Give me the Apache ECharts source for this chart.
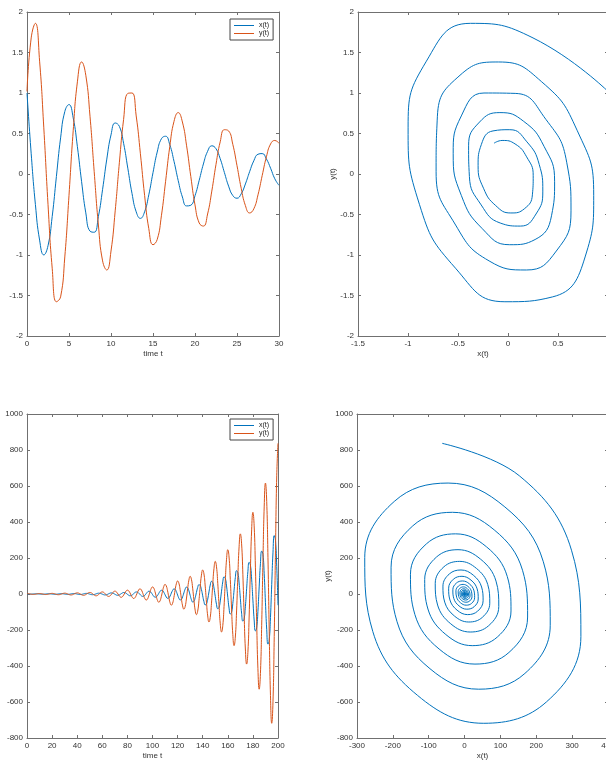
<!DOCTYPE html>
<html>
<head>
<meta charset="utf-8">
<script src="https://cdn.jsdelivr.net/npm/echarts@6/dist/echarts.min.js"></script>
<style>
  html, body { margin: 0; padding: 0; background: #fff; }
  #chart { width: 606px; height: 762px; }
</style>
</head>
<body>
<div id="chart"></div>
<script>
// ---- Damped oscillation, sampled every 0.5 time units (t = 0 .. 30) ----
const tDamped = [0,0.5,1,1.5,2,2.5,3,3.5,4,4.5,5,5.5,6,6.5,7,7.5,8,8.5,9,9.5,
  10,10.5,11,11.5,12,12.5,13,13.5,14,14.5,15,15.5,16,16.5,17,17.5,18,18.5,19,19.5,
  20,20.5,21,21.5,22,22.5,23,23.5,24,24.5,25,25.5,26,26.5,27,27.5,28,28.5,29,29.5,30];
const xDamped = [1.0,0.25,-0.376,-0.816,-0.999,-0.886,-0.525,-0.031,0.446,0.771,
  0.857,0.693,0.337,-0.095,-0.48,-0.706,-0.719,-0.524,-0.189,0.184,
  0.483,0.63,0.587,0.379,0.072,-0.24,-0.467,-0.548,-0.467,-0.257,
  0.017,0.271,0.435,0.466,0.361,0.157,-0.081,-0.284,-0.394,-0.386,
  -0.268,-0.078,0.124,0.28,0.348,0.312,0.189,0.018,-0.15,-0.266,
  -0.299,-0.245,-0.123,0.028,0.163,0.244,0.252,0.186,0.071,-0.059,-0.14];
const yDamped = [1.02,1.68,1.86,1.393,0.57,-0.374,-1.163,-1.577,-1.517,-1.024,
  -0.263,0.534,1.138,1.383,1.219,0.713,0.028,-0.63,-1.073,-1.185,
  -0.951,-0.455,0.145,0.674,0.995,1.0,0.717,0.25,-0.264,-0.675,
  -0.873,-0.809,-0.516,-0.09,0.34,0.65,0.758,0.642,0.348,-0.031,
  -0.382,-0.605,-0.643,-0.494,-0.211,0.119,0.397,0.547,0.532,0.366,
  0.103,-0.176,-0.39,-0.481,-0.43,-0.257,-0.019,0.212,0.371,0.414,0.38];

// ---- Growing oscillation, sampled every 1 time unit (t = 0 .. 200) ----
const tGrow = [0,1,2,3,4,5,6,7,8,9,10,11,12,13,14,15,16,17,18,19,
  20,21,22,23,24,25,26,27,28,29,30,31,32,33,34,35,36,37,38,39,
  40,41,42,43,44,45,46,47,48,49,50,51,52,53,54,55,56,57,58,59,
  60,61,62,63,64,65,66,67,68,69,70,71,72,73,74,75,76,77,78,79,
  80,81,82,83,84,85,86,87,88,89,90,91,92,93,94,95,96,97,98,99,
  100,101,102,103,104,105,106,107,108,109,110,111,112,113,114,115,116,117,118,119,
  120,121,122,123,124,125,126,127,128,129,130,131,132,133,134,135,136,137,138,139,
  140,141,142,143,144,145,146,147,148,149,150,151,152,153,154,155,156,157,158,159,
  160,161,162,163,164,165,166,167,168,169,170,171,172,173,174,175,176,177,178,179,
  180,181,182,183,184,185,186,187,188,189,190,191,192,193,194,195,196,197,198,199,200];
const xGrow = [
  -0.14,-0.59,-0.83,-0.76,-0.39,0.16,0.68,0.97,0.89,0.46,
  -0.19,-0.80,-1.13,-1.04,-0.53,0.22,0.93,1.32,1.21,0.62,
  -0.25,-1.08,-1.54,-1.41,-0.72,0.30,1.26,1.79,1.64,0.84,
  -0.34,-1.47,-2.08,-1.91,-0.98,0.40,1.71,2.43,2.23,1.14,
  -0.47,-1.99,-2.83,-2.60,-1.33,0.54,2.32,3.29,3.03,1.55,
  -0.63,-2.71,-3.84,-3.53,-1.81,0.74,3.15,4.47,4.11,2.11,
  -0.86,-3.67,-5.21,-4.79,-2.45,1.00,4.28,6.07,5.58,2.86,
  -1.17,-4.99,-7.08,-6.51,-3.33,1.36,5.81,8.25,7.58,3.88,
  -1.59,-6.77,-9.61,-8.83,-4.52,1.85,7.89,11.2,10.29,5.27,
  -2.15,-9.2,-13.05,-12.0,-6.14,2.51,10.72,15.21,13.98,7.16,
  -2.92,-12.49,-17.73,-16.3,-8.34,3.41,14.55,20.66,18.99,9.72,
  -3.97,-16.96,-24.08,-22.13,-11.33,4.63,19.76,28.06,25.79,13.21,
  -5.39,-23.03,-32.69,-30.05,-15.39,6.28,26.83,38.09,35.01,17.93,
  -7.3,-31.3,-44.4,-40.8,-20.9,8.5,36.4,51.7,47.5,24.3,
  -9.9,-42.5,-60.3,-55.4,-28.4,11.6,49.5,70.3,64.6,33.1,
  -13.5,-57.6,-81.8,-75.2,-38.5,15.7,67.2,95.4,87.7,44.9,
  -18.3,-78.3,-111.2,-102.2,-52.3,21.4,91.3,129.5,119.1,61.0,
  -24.9,-106.3,-150.9,-138.7,-71.0,29.0,123.8,175.8,161.6,82.7,
  -33.8,-144.4,-205.0,-188.4,-96.5,39.4,168.3,238.9,219.6,112.4,
  -45.9,-196.1,-278.4,-255.9,-131.0,53.5,228.5,324.4,298.2,152.7,
  -62.3];
const yGrow = [
  1.84,1.54,0.60,-0.62,-1.68,-2.15,-1.79,-0.70,0.73,1.96,
  2.50,2.09,0.82,-0.85,-2.29,-2.92,-2.43,-0.96,0.99,2.67,
  3.40,2.84,1.12,-1.15,-3.11,-3.96,-3.30,-1.30,1.34,3.62,
  4.61,3.85,1.52,-1.56,-4.22,-5.37,-4.48,-1.77,1.82,4.91,
  6.26,5.22,2.06,-2.12,-5.72,-7.30,-6.09,-2.40,2.47,6.67,
  8.50,7.09,2.79,-2.88,-7.78,-9.91,-8.27,-3.26,3.36,9.06,
  11.54,9.63,3.79,-3.91,-10.55,-13.45,-11.22,-4.42,4.56,12.30,
  15.68,13.08,5.15,-5.31,-14.34,-18.27,-15.24,-6.00,6.19,16.71,
  21.29,17.76,6.99,-7.21,-19.47,-24.81,-20.69,-8.15,8.40,22.68,
  28.90,24.11,9.49,-9.79,-26.42,-33.68,-28.09,-11.06,11.41,30.79,
  39.3,32.8,12.9,-13.3,-35.9,-45.8,-38.2,-15.0,15.5,41.8,
  53.3,44.5,17.5,-18.1,-48.8,-62.1,-51.8,-20.4,21.1,56.8,
  72.4,60.4,23.8,-24.5,-66.2,-84.4,-70.4,-27.7,28.6,77.1,
  98.3,82.0,32.3,-33.3,-89.8,-114.5,-95.5,-37.6,38.8,104.7,
  133.5,111.4,43.9,-45.2,-122.1,-155.6,-129.8,-51.1,52.7,142.2,
  181.2,151.2,59.5,-61.4,-165.7,-211.2,-176.1,-69.4,71.5,193.1,
  246.2,205.4,80.9,-83.4,-225.1,-286.9,-239.3,-94.2,97.2,262.3,
  334.2,278.8,109.8,-113.2,-305.6,-389.4,-324.8,-127.9,131.9,356.1,
  453.9,378.6,149.1,-153.7,-415.0,-528.9,-441.2,-173.8,179.2,483.6,
  616.4,514.2,202.5,-208.8,-563.6,-718.3,-599.2,-236.0,243.3,656.8,
  837];

const seriesNames = ['x(t)', 'y(t)'];
const BLUE = '#0072BD';
const ORANGE = '#D95319';
const FONT = 'Liberation Sans, Arial, Helvetica, sans-serif';
const AXIS_COLOR = '#707070';

const pair = (a, b) => a.map((v, i) => [v, b[i]]);

function axis(gridIndex, min, max, interval, position, opts) {
  const mirror = position === 'top' || position === 'right';
  return Object.assign({
    type: 'value', gridIndex, min, max, interval, position,
    axisLine: { show: true, onZero: false, lineStyle: { color: AXIS_COLOR, width: 1 } },
    axisTick: { show: true, inside: true, length: 3, lineStyle: { color: AXIS_COLOR, width: 1 } },
    splitLine: { show: false },
    axisLabel: { show: !mirror, fontSize: 8, color: '#333', fontFamily: FONT, margin: 4,
      showMinLabel: true, showMaxLabel: true, formatter: (v) => String(v) },
    nameTextStyle: { fontSize: 8, color: '#333', fontFamily: FONT }
  }, opts || {});
}

// plot boxes; the right-hand column runs slightly past the page edge
const grids = [
  { left: 27, top: 12, width: 252, height: 324 },
  { left: 358, top: 12, width: 250, height: 324 },
  { left: 27, top: 414, width: 251, height: 324 },
  { left: 357, top: 414, width: 251, height: 324 }
].map(g => Object.assign({ containLabel: false, outerBoundsMode: 'none' }, g));

const xName = (n) => ({ name: n, nameLocation: 'middle', nameGap: 14 });
const yName = (n) => ({ name: n, nameLocation: 'middle', nameGap: 16 });

const xAxes = [
  axis(0, 0, 30, 5, 'bottom', xName('time t')),
  axis(1, -1.5, 1, 0.5, 'bottom', xName('x(t)')),
  axis(2, 0, 200, 20, 'bottom', xName('time t')),
  axis(3, -300, 400, 100, 'bottom', xName('x(t)')),
  axis(0, 0, 30, 5, 'top'),
  axis(1, -1.5, 1, 0.5, 'top'),
  axis(2, 0, 200, 20, 'top'),
  axis(3, -300, 400, 100, 'top')
];
const yAxes = [
  axis(0, -2, 2, 0.5, 'left'),
  axis(1, -2, 2, 0.5, 'left', yName('y(t)')),
  axis(2, -800, 1000, 200, 'left'),
  axis(3, -800, 1000, 200, 'left', yName('y(t)')),
  axis(0, -2, 2, 0.5, 'right'),
  axis(1, -2, 2, 0.5, 'right'),
  axis(2, -800, 1000, 200, 'right'),
  axis(3, -800, 1000, 200, 'right')
];

function line(name, data, idx, color, smooth) {
  return {
    type: 'line', name, data, xAxisIndex: idx, yAxisIndex: idx,
    showSymbol: false, symbol: 'none', smooth, animation: false,
    lineStyle: { color, width: 1 }, itemStyle: { color }
  };
}

function legendAt(top) {
  return {
    data: seriesNames, left: 230, top, orient: 'vertical',
    icon: 'rect', itemWidth: 20, itemHeight: 1, itemGap: 1,
    padding: [3, 4, 3, 4], borderColor: '#444', borderWidth: 1,
    backgroundColor: '#fff', selectedMode: false,
    textStyle: { fontSize: 7, color: '#222', fontFamily: FONT }
  };
}

const chart = echarts.init(document.getElementById('chart'), null, { renderer: 'canvas' });
chart.setOption({
  backgroundColor: '#fff',
  animation: false,
  grid: grids,
  xAxis: xAxes,
  yAxis: yAxes,
  legend: [legendAt(19), legendAt(419)],
  series: [
    line(seriesNames[0], pair(tDamped, xDamped), 0, BLUE, true),
    line(seriesNames[1], pair(tDamped, yDamped), 0, ORANGE, true),
    line('phase damped', pair(xDamped, yDamped), 1, BLUE, 0.5),
    line(seriesNames[0], pair(tGrow, xGrow), 2, BLUE, true),
    line(seriesNames[1], pair(tGrow, yGrow), 2, ORANGE, true),
    line('phase growing', pair(xGrow, yGrow), 3, BLUE, 0.4)
  ]
});
</script>
</body>
</html>
